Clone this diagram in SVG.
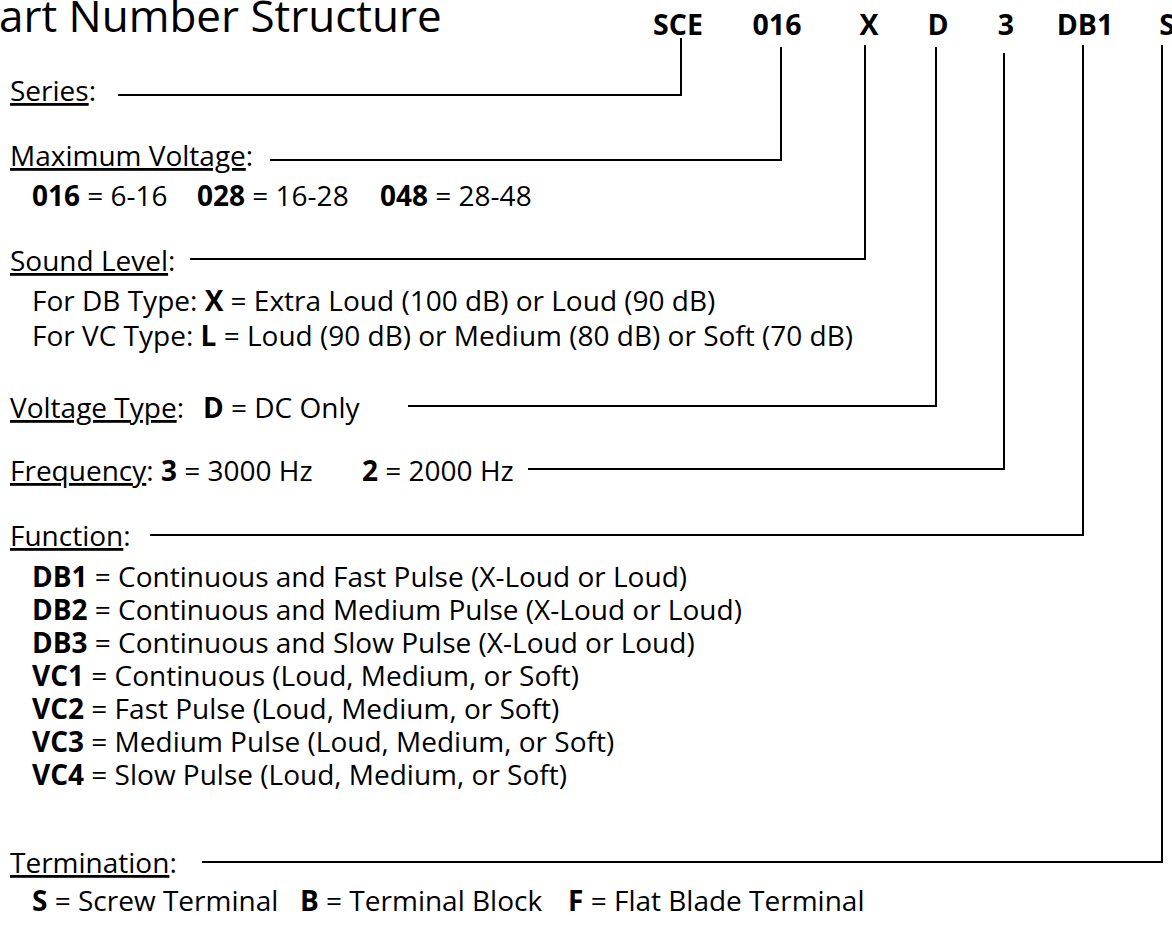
<svg xmlns="http://www.w3.org/2000/svg" width="1172" height="926" viewBox="0 0 1172 926">
<style>
text{font-family:"Open Sans","Noto Sans","Liberation Sans",sans-serif;font-size:28px;fill:#000}
.title{font-size:44px}
.code{font-size:28.5px;font-weight:bold;text-anchor:middle}
.b{font-weight:bold}
.u{text-decoration:underline}
.ln{fill:none;stroke:#000;stroke-width:2}
</style>
<rect width="1172" height="926" fill="#fff"/>
<g id="title"><text class="title" x="-1" y="32">art Number Structure</text></g>
<g id="codes">
<text class="code" x="678" y="35">SCE</text>
<text class="code" x="777" y="35">016</text>
<text class="code" x="869" y="35">X</text>
<text class="code" x="938" y="35">D</text>
<text class="code" x="1006" y="35">3</text>
<text class="code" x="1085" y="35">DB1</text>
<text class="code" x="1167" y="35">S</text>
</g>
<g id="connectors">
<polyline class="ln" points="118,95 681,95 681,38"/>
<polyline class="ln" points="270,160 781,160 781,47"/>
<polyline class="ln" points="190,259 865,259 865,45"/>
<polyline class="ln" points="408,406 936,406 936,47"/>
<polyline class="ln" points="528,469 1004,469 1004,53"/>
<polyline class="ln" points="150,535 1083,535 1083,45"/>
<polyline class="ln" points="202,862 1162,862 1162,45"/>
</g>
<g id="series"><text x="10" y="101"><tspan class="u">Series</tspan>:</text></g>
<g id="max-voltage">
<text x="10" y="166"><tspan class="u">Maximum Voltage</tspan>:</text>
<text y="206"><tspan x="32" class="b">016</tspan> = 6-16<tspan x="197" class="b">028</tspan> = 16-28<tspan x="380" class="b">048</tspan> = 28-48</text>
</g>
<g id="sound-level">
<text x="10" y="271"><tspan class="u">Sound Level</tspan>:</text>
<text x="32" y="311">For DB Type: <tspan class="b">X</tspan> = Extra Loud (100 dB) or Loud (90 dB)</text>
<text x="32" y="346">For VC Type: <tspan class="b">L</tspan> = Loud (90 dB) or Medium (80 dB) or Soft (70 dB)</text>
</g>
<g id="voltage-type"><text y="418"><tspan x="10" class="u">Voltage Type</tspan>:<tspan x="203" class="b">D</tspan> = DC Only</text></g>
<g id="frequency"><text y="481"><tspan x="10" class="u">Frequency</tspan>: <tspan class="b">3</tspan> = 3000 Hz<tspan x="362" class="b">2</tspan> = 2000 Hz</text></g>
<g id="function">
<text x="10" y="546"><tspan class="u">Function</tspan>:</text>
<text x="32" y="587"><tspan class="b">DB1</tspan> = Continuous and Fast Pulse (X-Loud or Loud)</text>
<text x="32" y="620"><tspan class="b">DB2</tspan> = Continuous and Medium Pulse (X-Loud or Loud)</text>
<text x="32" y="653"><tspan class="b">DB3</tspan> = Continuous and Slow Pulse (X-Loud or Loud)</text>
<text x="32" y="686"><tspan class="b">VC1</tspan> = Continuous (Loud, Medium, or Soft)</text>
<text x="32" y="719"><tspan class="b">VC2</tspan> = Fast Pulse (Loud, Medium, or Soft)</text>
<text x="32" y="752"><tspan class="b">VC3</tspan> = Medium Pulse (Loud, Medium, or Soft)</text>
<text x="32" y="785"><tspan class="b">VC4</tspan> = Slow Pulse (Loud, Medium, or Soft)</text>
</g>
<g id="termination">
<text x="10" y="873"><tspan class="u">Termination</tspan>:</text>
<text y="911"><tspan x="32" class="b">S</tspan> = Screw Terminal<tspan x="300" class="b">B</tspan> = Terminal Block<tspan x="568" class="b">F</tspan> = Flat Blade Terminal</text>
</g>
</svg>
